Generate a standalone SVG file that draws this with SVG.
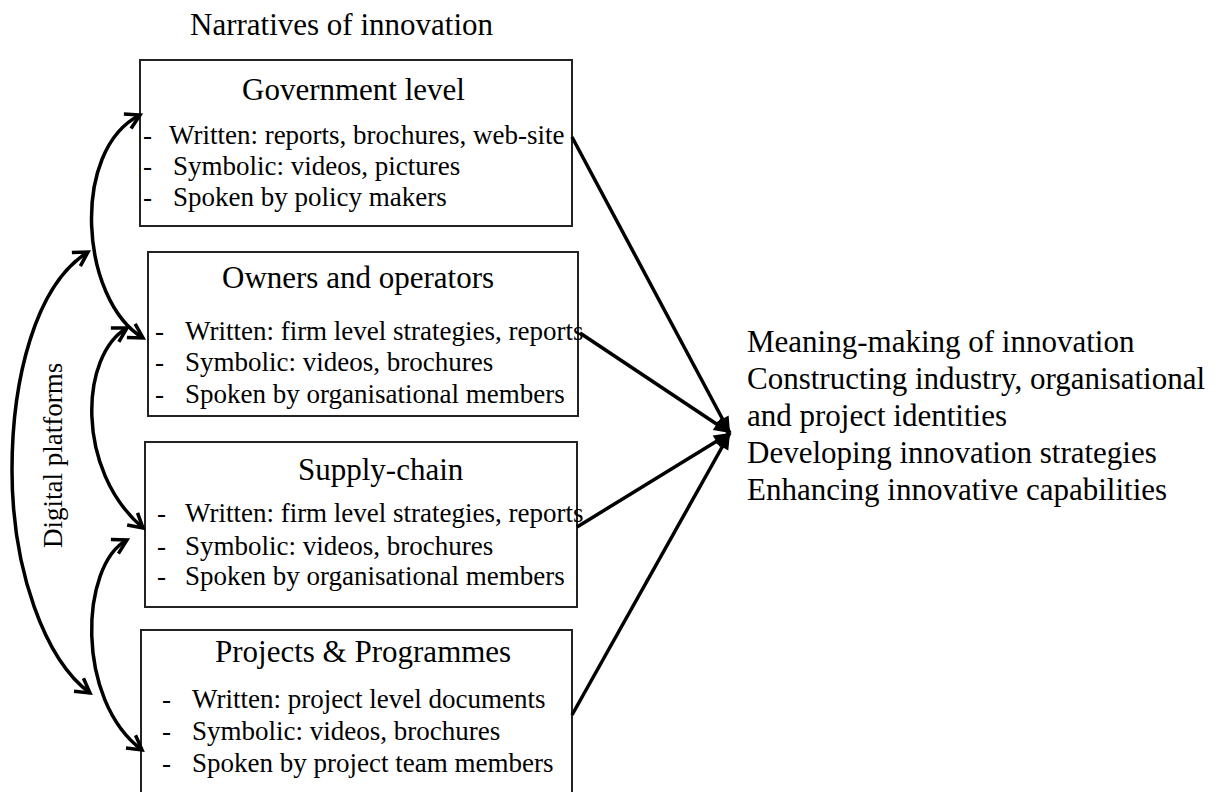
<svg xmlns="http://www.w3.org/2000/svg" width="1220" height="792" viewBox="0 0 1220 792">
  <style>
    text { font-family: "Liberation Serif", "Times New Roman", serif; fill: #000; }
    .title { font-size: 31px; }
    .head { font-size: 31px; }
    .item { font-size: 27px; }
    .box { fill: #fff; stroke: #222; stroke-width: 2; }
    .arc { fill: none; stroke: #000; stroke-width: 3.5; marker-start: url(#chev); marker-end: url(#chev); }
    .link { fill: none; stroke: #000; stroke-width: 3.5; marker-end: url(#tri); }
  </style>
  <defs>
    <marker id="chev" markerUnits="userSpaceOnUse" markerWidth="24" markerHeight="24" viewBox="-18 -12 24 24" refX="0" refY="0" orient="auto-start-reverse">
      <path d="M -14,-8 L 0,0 L -14,8" fill="none" stroke="#000" stroke-width="3.5" stroke-linejoin="miter"/>
    </marker>
    <marker id="tri" markerUnits="userSpaceOnUse" markerWidth="24" markerHeight="24" viewBox="-18 -12 24 24" refX="0" refY="0" orient="auto">
      <path d="M -16,-7 L 0,0 L -16,7 Z" fill="#000"/>
    </marker>
  </defs>

  <text class="title" x="190" y="35">Narratives of innovation</text>

  <g id="government">
    <rect class="box" x="140" y="60" width="432" height="166"/>
    <text class="head" x="242" y="100">Government level</text>
    <text class="item" x="143" y="144">-</text>
    <text class="item" x="169" y="144">Written: reports, brochures, web-site</text>
    <text class="item" x="143" y="175">-</text>
    <text class="item" x="173" y="175">Symbolic: videos, pictures</text>
    <text class="item" x="143" y="206">-</text>
    <text class="item" x="173" y="206">Spoken by policy makers</text>
  </g>

  <g id="owners">
    <rect class="box" x="148" y="252" width="430" height="164"/>
    <text class="head" x="222" y="288">Owners and operators</text>
    <text class="item" x="155" y="340">-</text>
    <text class="item" x="185" y="340">Written: firm level strategies, reports</text>
    <text class="item" x="155" y="371">-</text>
    <text class="item" x="185" y="371">Symbolic: videos, brochures</text>
    <text class="item" x="155" y="403">-</text>
    <text class="item" x="185" y="403">Spoken by organisational members</text>
  </g>

  <g id="supply">
    <rect class="box" x="145" y="442" width="432" height="165"/>
    <text class="head" x="298" y="480">Supply-chain</text>
    <text class="item" x="157" y="522">-</text>
    <text class="item" x="185" y="522">Written: firm level strategies, reports</text>
    <text class="item" x="157" y="555">-</text>
    <text class="item" x="185" y="555">Symbolic: videos, brochures</text>
    <text class="item" x="157" y="585">-</text>
    <text class="item" x="185" y="585">Spoken by organisational members</text>
  </g>

  <g id="projects">
    <rect class="box" x="141" y="630" width="431" height="200"/>
    <text class="head" x="215" y="662">Projects &amp; Programmes</text>
    <text class="item" x="162" y="708">-</text>
    <text class="item" x="192" y="708">Written: project level documents</text>
    <text class="item" x="162" y="740">-</text>
    <text class="item" x="192" y="740">Symbolic: videos, brochures</text>
    <text class="item" x="162" y="772">-</text>
    <text class="item" x="192" y="772">Spoken by project team members</text>
  </g>

  <g id="outcomes">
    <text class="head" x="747" y="352">Meaning-making of innovation</text>
    <text class="head" x="747" y="389">Constructing industry, organisational</text>
    <text class="head" x="747" y="426">and project identities</text>
    <text class="head" x="747" y="463">Developing innovation strategies</text>
    <text class="head" x="747" y="500">Enhancing innovative capabilities</text>
  </g>

  <g id="platforms">
    <text class="item" transform="translate(62,548) rotate(-90)">Digital platforms</text>
  </g>

  <g id="connectors">
    <!-- digital platform links between levels -->
    <path class="arc" d="M 140,115 C 70,150 80,300 143,338"/>
    <path class="arc" d="M 88,252 C 35,285 12,380 12,470 C 12,570 45,660 90,693"/>
    <path class="arc" d="M 127,328 C 80,355 75,470 143,528"/>
    <path class="arc" d="M 127,540 C 80,565 75,700 142,750"/>
    <!-- narratives feeding meaning-making -->
    <path class="link" d="M 572,137 L 730,433"/>
    <path class="link" d="M 580,333 L 730,433"/>
    <path class="link" d="M 577,527 L 730,433"/>
    <path class="link" d="M 572,715 L 730,433"/>
  </g>
</svg>
